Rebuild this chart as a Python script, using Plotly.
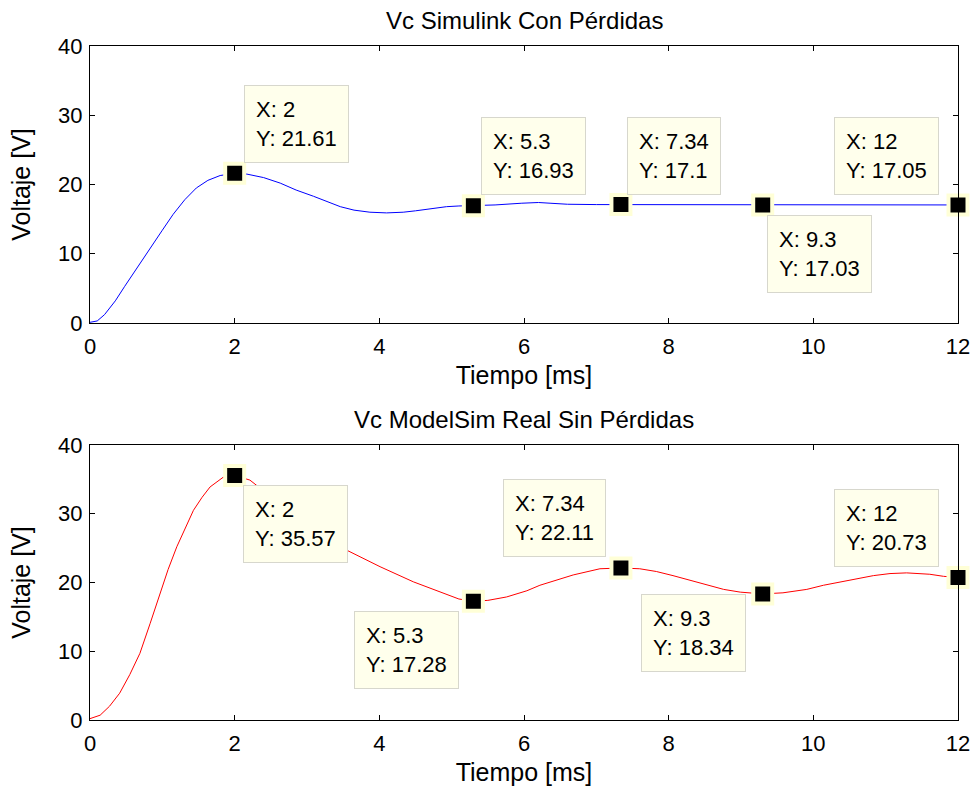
import plotly.graph_objects as go
from plotly.subplots import make_subplots

# ---------------- data ----------------
t_sim = [0, 0.1, 0.2, 0.35, 0.48, 0.65, 0.83, 1.0, 1.15, 1.31, 1.47, 1.63, 1.8, 2.0,
         2.17, 2.4, 2.63, 2.85, 3.09, 3.28, 3.46, 3.65, 3.87, 4.1, 4.33, 4.5, 4.7,
         4.93, 5.1, 5.3, 5.6, 5.97, 6.2, 6.36, 6.6, 7.0, 7.34, 8.0, 9.3, 10.5, 12]
v_sim = [0.1, 0.3, 1.2, 3.2, 5.3, 8.0, 10.8, 13.4, 15.7, 17.8, 19.5, 20.6, 21.3, 21.61,
         21.5, 21.0, 20.2, 19.2, 18.3, 17.5, 16.8, 16.3, 16.0, 15.9, 16.0, 16.2, 16.5,
         16.8, 16.9, 16.93, 17.05, 17.3, 17.4, 17.3, 17.15, 17.1, 17.1, 17.08, 17.03, 17.05, 17.05]

t_real = [0, 0.14, 0.27, 0.41, 0.55, 0.69, 0.83, 0.97, 1.08, 1.2, 1.32, 1.43, 1.55, 1.66,
          1.84, 2.0, 2.21, 2.5, 2.9, 3.2, 3.55, 4.01, 4.47, 4.93, 5.1, 5.3, 5.5, 5.76,
          6.04, 6.22, 6.45, 6.68, 7.05, 7.34, 7.6, 7.83, 8.06, 8.3, 8.53, 8.76, 8.99, 9.3,
          9.58, 9.91, 10.14, 10.37, 10.6, 10.83, 11.06, 11.29, 11.61, 11.8, 12]
v_real = [0.2, 0.7, 2.0, 3.9, 6.6, 9.7, 14.0, 18.4, 21.9, 25.2, 28.1, 30.5, 32.4, 33.9,
          35.3, 35.57, 34.9, 32.5, 28.8, 26.5, 24.7, 22.3, 20.1, 18.2, 17.6, 17.28, 17.4, 17.9,
          18.8, 19.6, 20.4, 21.1, 22.0, 22.11, 22.0, 21.6, 21.0, 20.3, 19.6, 19.0, 18.6, 18.34,
          18.5, 19.0, 19.6, 20.1, 20.6, 21.0, 21.3, 21.4, 21.2, 20.9, 20.73]

tip_x_sim = [2, 5.3, 7.34, 9.3, 12]
tip_y_sim = [21.61, 16.93, 17.1, 17.03, 17.05]
tip_x_real = [2, 5.3, 7.34, 9.3, 12]
tip_y_real = [35.57, 17.28, 22.11, 18.34, 20.73]

x_ticks = [0, 2, 4, 6, 8, 10, 12]
y_ticks = [0, 10, 20, 30, 40]

title_sim = "Vc Simulink Con Pérdidas"
title_real = "Vc ModelSim Real Sin Pérdidas"
x_title = "Tiempo [ms]"
y_title = "Voltaje [V]"

# ---------------- styles / placements ----------------
FONT = "Liberation Sans, Arial, sans-serif"
# (xanchor, yanchor, xshift px, yshift px) for each datatip box
tip_place_sim = [("left", "bottom", 9, 10), ("left", "bottom", 8, 11), ("left", "bottom", 6, 10),
                 ("left", "top", 4, -10), ("right", "bottom", -19, 10)]
tip_place_real = [("left", "top", 8, -10), ("right", "top", -14, -10), ("right", "bottom", -15, 11),
                  ("right", "top", -17, 0), ("right", "bottom", -19, 10)]

fig = make_subplots(rows=2, cols=1)

fig.add_trace(go.Scatter(x=t_sim, y=v_sim, mode="lines",
                         line=dict(color="rgb(0,0,255)", width=1),
                         showlegend=False, hoverinfo="skip"), row=1, col=1)
fig.add_trace(go.Scatter(x=t_real, y=v_real, mode="lines",
                         line=dict(color="rgb(255,0,0)", width=1),
                         showlegend=False, hoverinfo="skip"), row=2, col=1)

marker_style = dict(symbol="square", size=19, color="black",
                    line=dict(color="rgb(255,255,215)", width=4))
fig.add_trace(go.Scatter(x=tip_x_sim, y=tip_y_sim, mode="markers", marker=marker_style,
                         cliponaxis=False, showlegend=False), row=1, col=1)
fig.add_trace(go.Scatter(x=tip_x_real, y=tip_y_real, mode="markers", marker=marker_style,
                         cliponaxis=False, showlegend=False), row=2, col=1)

def fmt(v):
    return ("%g" % v)

annotations = []
for xs, ys, places, xr, yr in [(tip_x_sim, tip_y_sim, tip_place_sim, "x", "y"),
                               (tip_x_real, tip_y_real, tip_place_real, "x2", "y2")]:
    for xv, yv, (xa, ya, dx, dy) in zip(xs, ys, places):
        annotations.append(dict(
            x=xv, y=yv, xref=xr, yref=yr, showarrow=False,
            text="X: %s<br>Y: %s" % (fmt(xv), fmt(yv)), align="left",
            xanchor=xa, yanchor=ya, xshift=dx, yshift=dy,
            bgcolor="rgb(255,255,236)", bordercolor="rgb(215,215,205)", borderwidth=1,
            borderpad=11, font=dict(family=FONT, size=22, color="black")))

# subplot titles
annotations.append(dict(text=title_sim, x=0.5, y=1.0, xref="paper", yref="paper",
                        xanchor="center", yanchor="bottom", yshift=10, showarrow=False,
                        font=dict(family=FONT, size=24, color="black")))
annotations.append(dict(text=title_real, x=0.5, y=0.408, xref="paper", yref="paper",
                        xanchor="center", yanchor="bottom", yshift=10, showarrow=False,
                        font=dict(family=FONT, size=24, color="black")))

axis_common = dict(showline=True, linecolor="black", linewidth=1.3, mirror="allticks",
                   ticks="inside", ticklen=5, tickwidth=1, tickcolor="black",
                   showgrid=False, zeroline=False,
                   tickfont=dict(family=FONT, size=22, color="black"))

fig.update_xaxes(range=[0, 12], tickvals=x_ticks, **axis_common)
fig.update_yaxes(range=[0, 40], tickvals=y_ticks, **axis_common)
fig.update_xaxes(title=dict(text=x_title, font=dict(family=FONT, size=25, color="black"), standoff=8),
                 ticklabelstandoff=3)
fig.update_yaxes(title=dict(text=y_title, font=dict(family=FONT, size=25, color="black"), standoff=20),
                 ticklabelstandoff=2)

fig.update_layout(
    width=976, height=794,
    margin=dict(l=90, r=18, t=46, b=74, autoexpand=False),
    paper_bgcolor="white", plot_bgcolor="white",
    annotations=annotations,
    xaxis=dict(domain=[0, 1]), yaxis=dict(domain=[0.589, 1.0]),
    xaxis2=dict(domain=[0, 1]), yaxis2=dict(domain=[0.0, 0.408]),
)

fig.write_html("out.html", config={"displayModeBar": False},
               post_script="document.body.style.margin='0';document.body.style.overflow='hidden';")
